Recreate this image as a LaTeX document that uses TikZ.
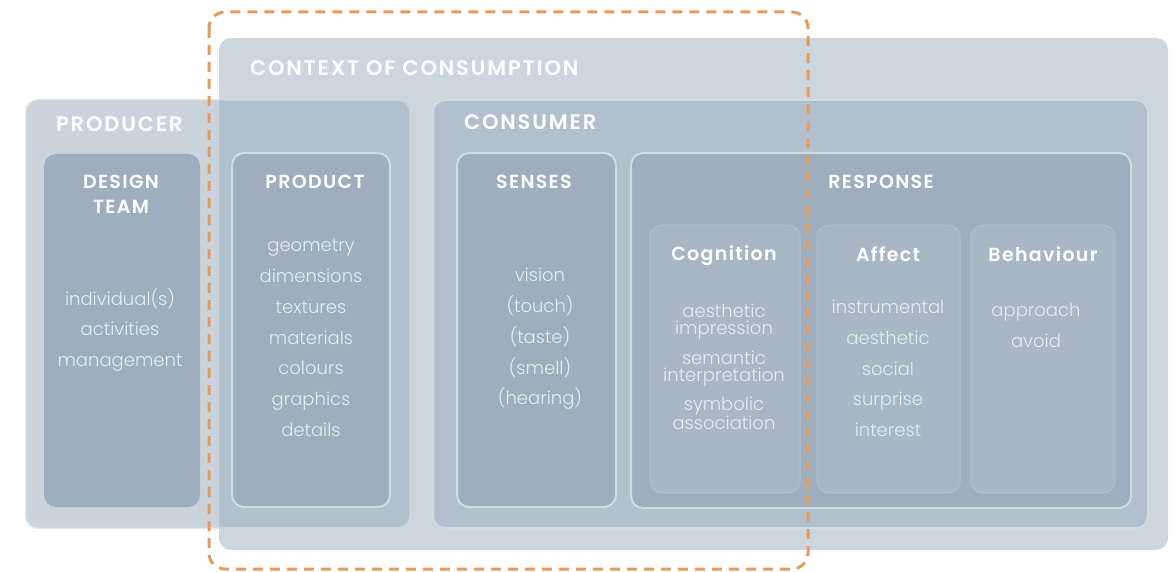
\documentclass[tikz,border=0pt]{standalone}
\usepackage{fontspec}
\setmainfont{Poppins}[UprightFont={* Light}, BoldFont={* SemiBold}]
\usetikzlibrary{positioning}

\definecolor{ctxgrey}{HTML}{CDD5DE}
\definecolor{partgrey}{RGB}{155,172,190}
\definecolor{boxgrey}{HTML}{9EAEBF}
\definecolor{subgrey}{HTML}{A8B6C5}
\definecolor{rimgrey}{HTML}{D0DCDF}
\definecolor{subrim}{HTML}{B0BECB}
\definecolor{dashorange}{HTML}{E89A58}
\definecolor{itemwhite}{HTML}{E6ECEF}

\tikzset{
  panel/.style={anchor=north west, rounded corners=12pt},
  part/.style={panel, fill=partgrey, fill opacity=0.52, draw=rimgrey, line width=2pt},
  column/.style={panel, fill=boxgrey, draw=rimgrey, line width=2pt},
  subcolumn/.style={panel, fill=subgrey, draw=subrim, line width=1.2pt},
  bighead/.style={anchor=west, text=white, font=\fontsize{21}{24}\selectfont\bfseries\addfontfeature{LetterSpace=9}},
  head/.style={text=white, align=center, font=\fontsize{19}{25}\selectfont\bfseries\addfontfeature{LetterSpace=7}},
  items/.style={text=itemwhite, align=center, font=\fontsize{18}{30.8}\selectfont},
}

\begin{document}
\begin{tikzpicture}[x=1pt, y=-1pt, every node/.style={inner sep=0pt, outer sep=0pt}]
    \useasboundingbox (0,0) rectangle (1176,572);

    % Outer panels
    \node[panel, fill=ctxgrey, minimum width=949, minimum height=512] (context) at (219,38) {};
    \node[part, draw opacity=0.6, minimum width=384, minimum height=428] (producer) at (26,100) {};
    \node[part, minimum width=715, minimum height=428] (consumer) at (433,100) {};

    % Columns
    \node[column, draw=none, minimum width=156, minimum height=353] (team) at (44,154) {};
    \node[column, minimum width=158, minimum height=354] (product) at (232,153) {};
    \node[column, minimum width=159, minimum height=354] (senses) at (457,153) {};
    \node[column, minimum width=500, minimum height=355] (response) at (631,153) {};

    % Response parts
    \node[subcolumn, minimum width=150, minimum height=268] (cognition) at (650,225) {};
    \node[subcolumn, minimum width=143, minimum height=268] (affect) at (817,225) {};
    \node[subcolumn, minimum width=144, minimum height=268] (behaviour) at (971,225) {};

    % Headings
    \node[bighead] (contexthead) at (250,68) {CONTEXT OF CONSUMPTION};
    \node[bighead] (producerhead) at (56,124) {PRODUCER};
    \node[bighead] (consumerhead) at (464,122) {CONSUMER};
    \node[head] (teamhead) at (121,194) {DESIGN\\TEAM};
    \node[head] (producthead) at (315,182) {PRODUCT};
    \node[head] (senseshead) at (534,182) {SENSES};
    \node[head] (responsehead) at (881,182) {RESPONSE};
    \node[head] (cognitionhead) at (724,256) {Cognition};
    \node[head] (affecthead) at (888,254) {Affect};
    \node[head] (behaviourhead) at (1043,254) {Behaviour};

    % Item lists
    \node[items] (teamitems) at (120,330) {individual(s)\\activities\\management};
    \node[items] (productitems) at (311,338) {geometry\\dimensions\\textures\\materials\\colours\\graphics\\details};
    \node[items] (sensesitems) at (540,339) {vision\\(touch)\\(taste)\\(smell)\\(hearing)};
    \node[items, font=\fontsize{18}{17}\selectfont] (cognitionitems) at (724,367)
        {aesthetic\\impression\\[10pt]semantic\\interpretation\\[10pt]symbolic\\association};
    \node[items] (affectitems) at (888,368.5) {instrumental\\aesthetic\\social\\surprise\\interest};
    \node[items] (behaviouritems) at (1036,325.5) {approach\\avoid};

    % Dashed frame
    \draw[dashorange, line width=3pt, dash pattern=on 10pt off 7pt, rounded corners=16pt]
        (209,12) rectangle (808,569);
\end{tikzpicture}
\end{document}
